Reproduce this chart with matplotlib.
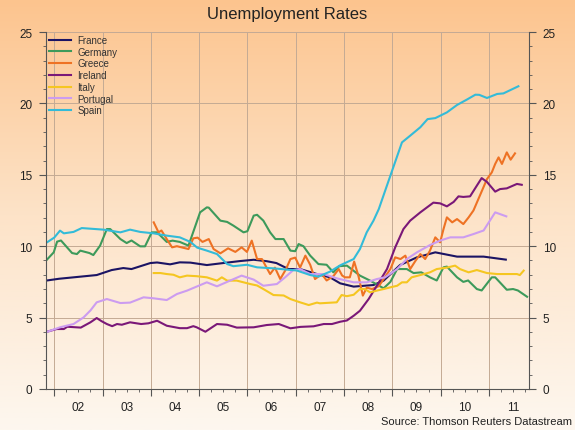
import numpy as np
import matplotlib
matplotlib.use("Agg")
import matplotlib.pyplot as plt
from matplotlib.colors import LinearSegmentedColormap

plt.rcParams['font.family'] = ['Liberation Sans', 'DejaVu Sans']

# values (decimal years, % unemployed)
france_t = [2001.85, 2002.1, 2002.4, 2002.88, 2003.19, 2003.43, 2003.6, 2003.99, 2004.13, 2004.4,
            2004.6, 2004.82, 2005.16, 2005.5, 2005.85, 2006.13, 2006.4, 2006.6, 2006.85, 2007.09,
            2007.44, 2007.71, 2007.92, 2008.2, 2008.61, 2008.82, 2009.16, 2009.51, 2009.89, 2010.34,
            2010.89, 2011.35]
france_v = [7.6, 7.72, 7.82, 7.98, 8.33, 8.47, 8.4, 8.82, 8.86, 8.73,
            8.87, 8.85, 8.68, 8.82, 8.96, 9.05, 8.95, 8.82, 8.4, 8.4,
            8.05, 7.82, 7.4, 7.17, 7.28, 7.59, 8.68, 9.22, 9.57, 9.27,
            9.27, 9.06]

germany_t = [2001.85, 2001.99, 2002.06, 2002.14, 2002.37, 2002.47, 2002.54, 2002.73, 2002.81, 2002.95,
             2003.09, 2003.16, 2003.37, 2003.5, 2003.6, 2003.78, 2003.88, 2004.02, 2004.13, 2004.33,
             2004.45, 2004.6, 2004.78, 2005.02, 2005.16, 2005.2, 2005.44, 2005.58, 2005.71, 2005.92,
             2006.0, 2006.13, 2006.2, 2006.33, 2006.47, 2006.58, 2006.75, 2006.89, 2006.99, 2007.06,
             2007.16, 2007.3, 2007.47, 2007.64, 2007.78, 2007.9, 2008.06, 2008.33, 2008.54, 2008.82,
             2008.96, 2009.1, 2009.3, 2009.44, 2009.6, 2009.78, 2009.92, 2010.06, 2010.13, 2010.34,
             2010.47, 2010.57, 2010.75, 2010.85, 2011.06, 2011.13, 2011.37, 2011.5, 2011.6, 2011.79]
germany_v = [9.06, 9.57, 10.32, 10.4, 9.52, 9.45, 9.69, 9.52, 9.38, 10.04,
             11.2, 11.2, 10.5, 10.22, 10.4, 9.99, 9.99, 10.97, 10.97, 10.3,
             10.39, 10.3, 10.04, 12.37, 12.72, 12.7, 11.79, 11.7, 11.44, 10.97,
             11.05, 12.14, 12.2, 11.79, 10.97, 10.5, 10.5, 9.69, 9.65, 10.15,
             10.0, 9.34, 8.75, 8.7, 8.17, 8.6, 8.64, 7.94, 7.59, 7.05,
             7.5, 8.4, 8.4, 8.12, 8.17, 7.82, 7.6, 8.52, 8.57, 7.82,
             7.5, 7.6, 7.0, 6.9, 7.82, 7.82, 6.95, 7.0, 6.9, 6.46]

greece_t = [2004.06, 2004.16, 2004.22, 2004.33, 2004.44, 2004.54, 2004.66, 2004.78, 2004.88, 2004.97,
            2005.07, 2005.2, 2005.3, 2005.44, 2005.6, 2005.75, 2005.88, 2005.99, 2006.09, 2006.2,
            2006.3, 2006.47, 2006.57, 2006.68, 2006.8, 2006.89, 2006.99, 2007.09, 2007.2, 2007.3,
            2007.4, 2007.54, 2007.64, 2007.78, 2007.89, 2007.96, 2008.02, 2008.12, 2008.21, 2008.3,
            2008.39, 2008.47, 2008.58, 2008.72, 2008.82, 2008.96, 2009.06, 2009.17, 2009.27, 2009.37,
            2009.48, 2009.58, 2009.68, 2009.78, 2009.89, 2009.99, 2010.06, 2010.13, 2010.24, 2010.34,
            2010.47, 2010.58, 2010.68, 2010.82, 2010.96, 2011.06, 2011.13, 2011.2, 2011.27, 2011.37,
            2011.45, 2011.54]
greece_v = [11.67, 10.97, 11.1, 10.5, 9.92, 10.0, 9.9, 9.8, 10.55, 10.6,
            10.3, 10.5, 9.8, 9.5, 9.85, 9.6, 9.92, 9.6, 10.39, 9.1,
            9.1, 8.05, 8.5, 7.7, 8.4, 9.1, 9.2, 8.5, 9.34, 8.7,
            7.7, 8.05, 7.6, 7.9, 8.4, 7.95, 7.82, 7.82, 8.92, 7.9,
            6.54, 7.1, 7.0, 7.2, 7.7, 8.4, 9.22, 9.1, 9.34, 8.4,
            8.98, 9.45, 9.1, 9.69, 10.62, 10.27, 11.2, 12.02, 11.67, 11.9,
            11.55, 12.02, 12.5, 13.6, 14.7, 15.17, 15.76, 16.22, 15.76, 16.57,
            16.06, 16.5]

ireland_t = [2001.85, 2002.05, 2002.2, 2002.27, 2002.55, 2002.75, 2002.88, 2002.98, 2003.09, 2003.2,
             2003.3, 2003.4, 2003.57, 2003.8, 2003.95, 2004.13, 2004.33, 2004.6, 2004.75, 2004.88,
             2004.95, 2005.13, 2005.37, 2005.58, 2005.78, 2006.13, 2006.4, 2006.65, 2006.89, 2007.1,
             2007.37, 2007.58, 2007.75, 2007.92, 2008.06, 2008.2, 2008.33, 2008.51, 2008.68, 2008.89,
             2009.06, 2009.23, 2009.37, 2009.58, 2009.85, 2009.99, 2010.13, 2010.27, 2010.37, 2010.47,
             2010.61, 2010.75, 2010.85, 2010.96, 2011.13, 2011.23, 2011.37, 2011.58, 2011.68]
ireland_v = [4.01, 4.2, 4.2, 4.36, 4.3, 4.67, 4.97, 4.75, 4.55, 4.4,
             4.55, 4.5, 4.67, 4.55, 4.6, 4.78, 4.43, 4.26, 4.26, 4.4,
             4.32, 4.01, 4.55, 4.5, 4.3, 4.32, 4.48, 4.55, 4.25, 4.35,
             4.39, 4.55, 4.55, 4.71, 4.8, 5.13, 5.48, 6.3, 7.23, 8.4,
             9.92, 11.2, 11.79, 12.37, 13.05, 13.0, 12.79, 13.1, 13.49, 13.45,
             13.49, 14.24, 14.77, 14.5, 13.82, 14.0, 14.05, 14.36, 14.3]

italy_t = [2004.06, 2004.2, 2004.33, 2004.47, 2004.6, 2004.75, 2004.95, 2005.16, 2005.37, 2005.47,
           2005.58, 2005.78, 2006.06, 2006.2, 2006.33, 2006.54, 2006.75, 2006.89, 2007.09, 2007.27,
           2007.44, 2007.5, 2007.85, 2007.95, 2008.06, 2008.2, 2008.33, 2008.43, 2008.54, 2008.68,
           2008.82, 2008.96, 2009.1, 2009.2, 2009.3, 2009.4, 2009.58, 2009.78, 2009.92, 2010.13,
           2010.3, 2010.4, 2010.58, 2010.75, 2010.96, 2011.17, 2011.37, 2011.58, 2011.64, 2011.72]
italy_v = [8.12, 8.12, 8.05, 8.0, 7.82, 7.94, 7.9, 7.82, 7.59, 7.82,
           7.59, 7.59, 7.35, 7.25, 7.0, 6.58, 6.55, 6.3, 6.07, 5.88,
           6.05, 6.0, 6.07, 6.58, 6.5, 6.6, 7.0, 7.0, 6.77, 6.89,
           7.0, 7.12, 7.23, 7.47, 7.47, 7.82, 7.98, 8.17, 8.4, 8.5,
           8.64, 8.4, 8.17, 8.33, 8.12, 8.05, 8.05, 8.05, 7.98, 8.29]

portugal_t = [2001.85, 2002.12, 2002.4, 2002.61, 2002.75, 2002.88, 2003.09, 2003.37, 2003.57, 2003.85,
              2004.06, 2004.33, 2004.54, 2004.75, 2004.99, 2005.16, 2005.37, 2005.58, 2005.88, 2006.13,
              2006.33, 2006.61, 2006.78, 2006.95, 2007.09, 2007.3, 2007.58, 2007.85, 2008.2, 2008.47,
              2008.68, 2008.85, 2009.1, 2009.3, 2009.51, 2009.78, 2009.99, 2010.2, 2010.47, 2010.68,
              2010.89, 2011.13, 2011.36]
portugal_v = [4.0, 4.32, 4.55, 5.02, 5.5, 6.07, 6.3, 6.02, 6.05, 6.42,
              6.35, 6.23, 6.65, 6.89, 7.23, 7.47, 7.19, 7.5, 7.94, 7.66,
              7.23, 7.35, 7.82, 8.33, 8.4, 8.05, 8.05, 7.75, 7.47, 7.47,
              7.7, 7.82, 8.4, 9.1, 9.57, 10.08, 10.39, 10.62, 10.62, 10.85,
              11.1, 12.37, 12.09]

spain_t = [2001.85, 2002.0, 2002.12, 2002.2, 2002.4, 2002.57, 2003.02, 2003.37, 2003.57, 2003.78,
           2004.06, 2004.33, 2004.6, 2004.82, 2004.96, 2005.16, 2005.37, 2005.58, 2005.71, 2005.99,
           2006.2, 2006.54, 2006.82, 2007.02, 2007.3, 2007.47, 2007.71, 2007.92, 2008.2, 2008.33,
           2008.47, 2008.61, 2008.72, 2008.96, 2009.2, 2009.37, 2009.58, 2009.73, 2009.89, 2010.13,
           2010.34, 2010.54, 2010.72, 2010.8, 2010.96, 2011.17, 2011.3, 2011.61]
spain_v = [10.27, 10.6, 11.09, 10.9, 11.0, 11.27, 11.16, 10.97, 11.16, 11.0,
           10.9, 10.74, 10.62, 10.3, 9.9, 9.69, 9.45, 8.75, 8.6, 8.7,
           8.52, 8.45, 8.36, 8.3, 7.98, 7.87, 8.22, 8.66, 9.1, 9.8,
           10.97, 11.79, 12.6, 14.94, 17.27, 17.74, 18.33, 18.9, 18.97, 19.37,
           19.89, 20.26, 20.61, 20.6, 20.38, 20.66, 20.7, 21.2]

names = ["France", "Germany", "Greece", "Ireland", "Italy", "Portugal", "Spain"]
colors = ["#1b1464", "#3d9a5b", "#ee7224", "#7a1878", "#f5c621", "#cc9cf0", "#33bbd8"]
series = [(france_t, france_v), (germany_t, germany_v), (greece_t, greece_v), (ireland_t, ireland_v),
          (italy_t, italy_v), (portugal_t, portugal_v), (spain_t, spain_v)]
year_labels = ["02", "03", "04", "05", "06", "07", "08", "09", "10", "11"]

fig = plt.figure(figsize=(5.75, 4.31), dpi=100)

# orange-to-cream background
bg = fig.add_axes([0, 0, 1, 1])
cmap = LinearSegmentedColormap.from_list("bg", ["#fdf7ef", "#fde3c8", "#fcc48e"])
bg.imshow(np.linspace(0, 1, 256).reshape(-1, 1)[::-1], aspect="auto", cmap=cmap,
          extent=[0, 1, 0, 1])
bg.axis("off")

ax = fig.add_axes([46 / 575, 41 / 431, 483 / 575, 357 / 431])
ax.set_facecolor("none")

for (t, v), name, c in zip(series, names, colors):
    ax.plot(t, v, color=c, lw=1.5, label=name)

ax.set_xlim(2001.83, 2011.83)
ax.set_ylim(0, 25)

years = np.arange(2002, 2012)
ax.set_xticks(years)
ax.set_xticklabels([])
ax.set_xticks(np.arange(2002, 2011.9, 0.25), minor=True)
for yr, lab in zip(years, year_labels):
    ax.text(yr + 0.5, -0.035, lab, transform=ax.get_xaxis_transform(), ha="center", va="top",
            fontsize=8.5, color="#222222")

ax.set_yticks(np.arange(0, 26, 5))
ax.set_yticks(np.arange(0, 26, 1), minor=True)
ax.tick_params(axis="y", which="both", left=True, right=True, labelright=True,
               labelsize=8.5, labelcolor="#222222", direction="out", color="#555555")
ax.tick_params(axis="y", which="major", length=5, pad=5)
ax.tick_params(axis="y", which="minor", length=2.5)
ax.tick_params(axis="x", which="major", length=5, direction="out", color="#555555")
ax.tick_params(axis="x", which="minor", length=2.5, direction="out", color="#555555")

ax.grid(True, which="major", color="#c4aa94", lw=0.7)
ax.set_axisbelow(True)
ax.spines["top"].set_visible(False)
for s in ["left", "right", "bottom"]:
    ax.spines[s].set_color("#555555")
    ax.spines[s].set_linewidth(0.8)

leg = ax.legend(loc="upper left", bbox_to_anchor=(0.0, 1.0), frameon=False, fontsize=7,
                handlelength=2.3, handletextpad=0.6, labelspacing=0.18, borderpad=0.1,
                borderaxespad=0.2)
for txt in leg.get_texts():
    txt.set_color("#333333")

fig.text(0.5, 1 - 14 / 431, "Unemployment Rates", ha="center", va="center", fontsize=12,
         color="#222222")
fig.text(572 / 575, 1 - 422 / 431, "Source: Thomson Reuters Datastream", ha="right",
         va="center", fontsize=8, color="#222222")

fig.savefig("out.png", dpi=100)
